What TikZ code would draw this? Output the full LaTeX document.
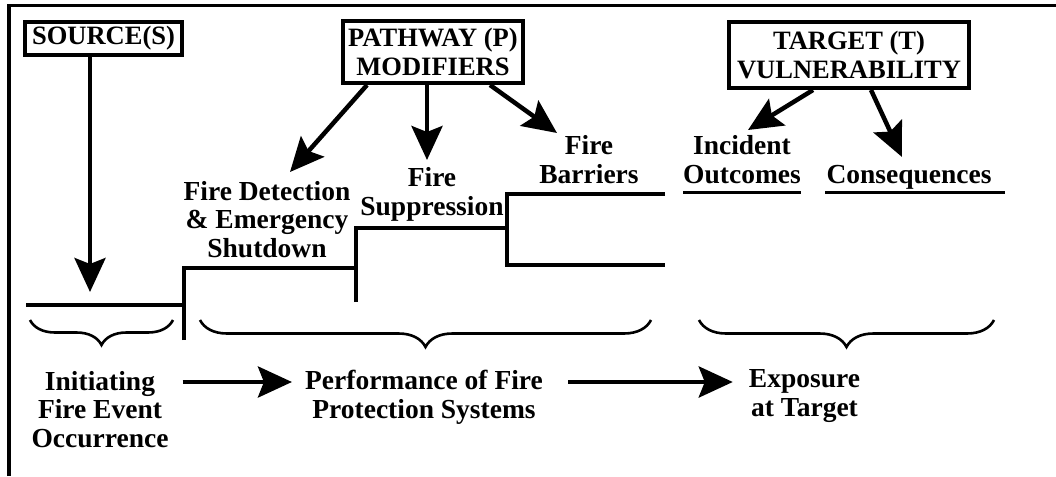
\documentclass[tikz,border=0pt]{standalone}
\usepackage{fontspec}
\setmainfont{Liberation Serif}
\usetikzlibrary{arrows.meta,decorations.pathreplacing}
\begin{document}
\begin{tikzpicture}[x=1pt,y=-1pt,
  lbl/.style={font=\fontsize{27.5}{28.5}\selectfont\bfseries, align=center, inner sep=0pt, anchor=base},
  hdr/.style={font=\fontsize{26.5}{29}\selectfont\bfseries, align=center, draw, line width=4pt, inner sep=0pt},
  arr/.style={line width=4.5pt, -{Stealth[length=34pt,width=31pt,inset=6pt]}},
  stair/.style={line width=4.5pt},
  ul/.style={line width=3pt},
  brc/.style={line width=2.6pt, decorate, decoration={brace, mirror, amplitude=#1}},
  brc/.default=26pt,
]
\useasboundingbox (0,0) rectangle (1056,476);

% frame
\draw[line width=3.5pt] (9,476) -- (9,5.5) -- (1056,5.5);

% heading boxes
\node[hdr, minimum width=157pt, minimum height=33pt] (src) at (103.5,38.5) {SOURCE(S)};
\node[hdr, minimum width=180pt, minimum height=62pt] (pw) at (433,52) {PATHWAY (P)\\MODIFIERS};
\node[hdr, minimum width=240pt, minimum height=66pt] (tg) at (849,55) {TARGET (T)\\VULNERABILITY};

% labels (anchored at the baseline of their last line)
\node[lbl] (det) at (267,257) {Fire Detection\\\& Emergency\\Shutdown};
\node[lbl] (sup) at (432,215) {Fire\\Suppression};
\node[lbl] (bar) at (589,183) {Fire\\Barriers};
\node[lbl] (inc) at (742,183) {Incident\\Outcomes};
\node[lbl] (con) at (909,183) {Consequences};
\node[lbl] (ini) at (100,447) {Initiating\\Fire Event\\Occurrence};
\node[lbl] (perf) at (424,418) {Performance of Fire\\Protection Systems};
\node[lbl] (exps) at (804.5,416) {Exposure\\at Target};

% arrow tips
\coordinate (srcTip) at (90,292);
\coordinate (detTip) at (290,172);
\coordinate (supTip) at (427,160);
\coordinate (barTip) at (557,133);
\coordinate (incTip) at (748,130);
\coordinate (conTip) at (902,157);
\coordinate (row) at (0,382);

% arrows from the heading boxes
\draw[arr] ([xshift=-13.5pt]src.south) -- (srcTip);
\draw[arr] ([xshift=-66pt]pw.south) -- (detTip);
\draw[arr] ([xshift=-6pt]pw.south) -- (supTip);
\draw[arr] ([xshift=57pt]pw.south) -- (barTip);
\draw[arr] ([xshift=-36pt]tg.south) -- (incTip);
\draw[arr] ([xshift=22pt]tg.south) -- (conTip);

% underlines
\draw[ul] (683,192) -- (801,192);
\draw[ul] (825,192) -- (1005,192);

% staircase
\draw[stair] (26,305) -- (184,305);
\draw[stair] (184,340) -- (184,268) -- (356,268);
\draw[stair] (356,302) -- (356,228) -- (507,228);
\draw[stair] (665,194) -- (507,194) -- (507,265) -- (665,265);

% braces
\draw[brc=25pt] (30,320) -- (173,320);
\draw[brc=27pt] (200,320) -- (651,320);
\draw[brc=27pt] (699,320) -- (994,320);

% bottom flow arrows
\draw[arr, shorten <=14pt, shorten >=13pt] (ini.east |- row) -- (perf.west |- row);
\draw[arr, shorten <=25pt, shorten >=16pt] (perf.east |- row) -- (exps.west |- row);
\end{tikzpicture}
\end{document}
